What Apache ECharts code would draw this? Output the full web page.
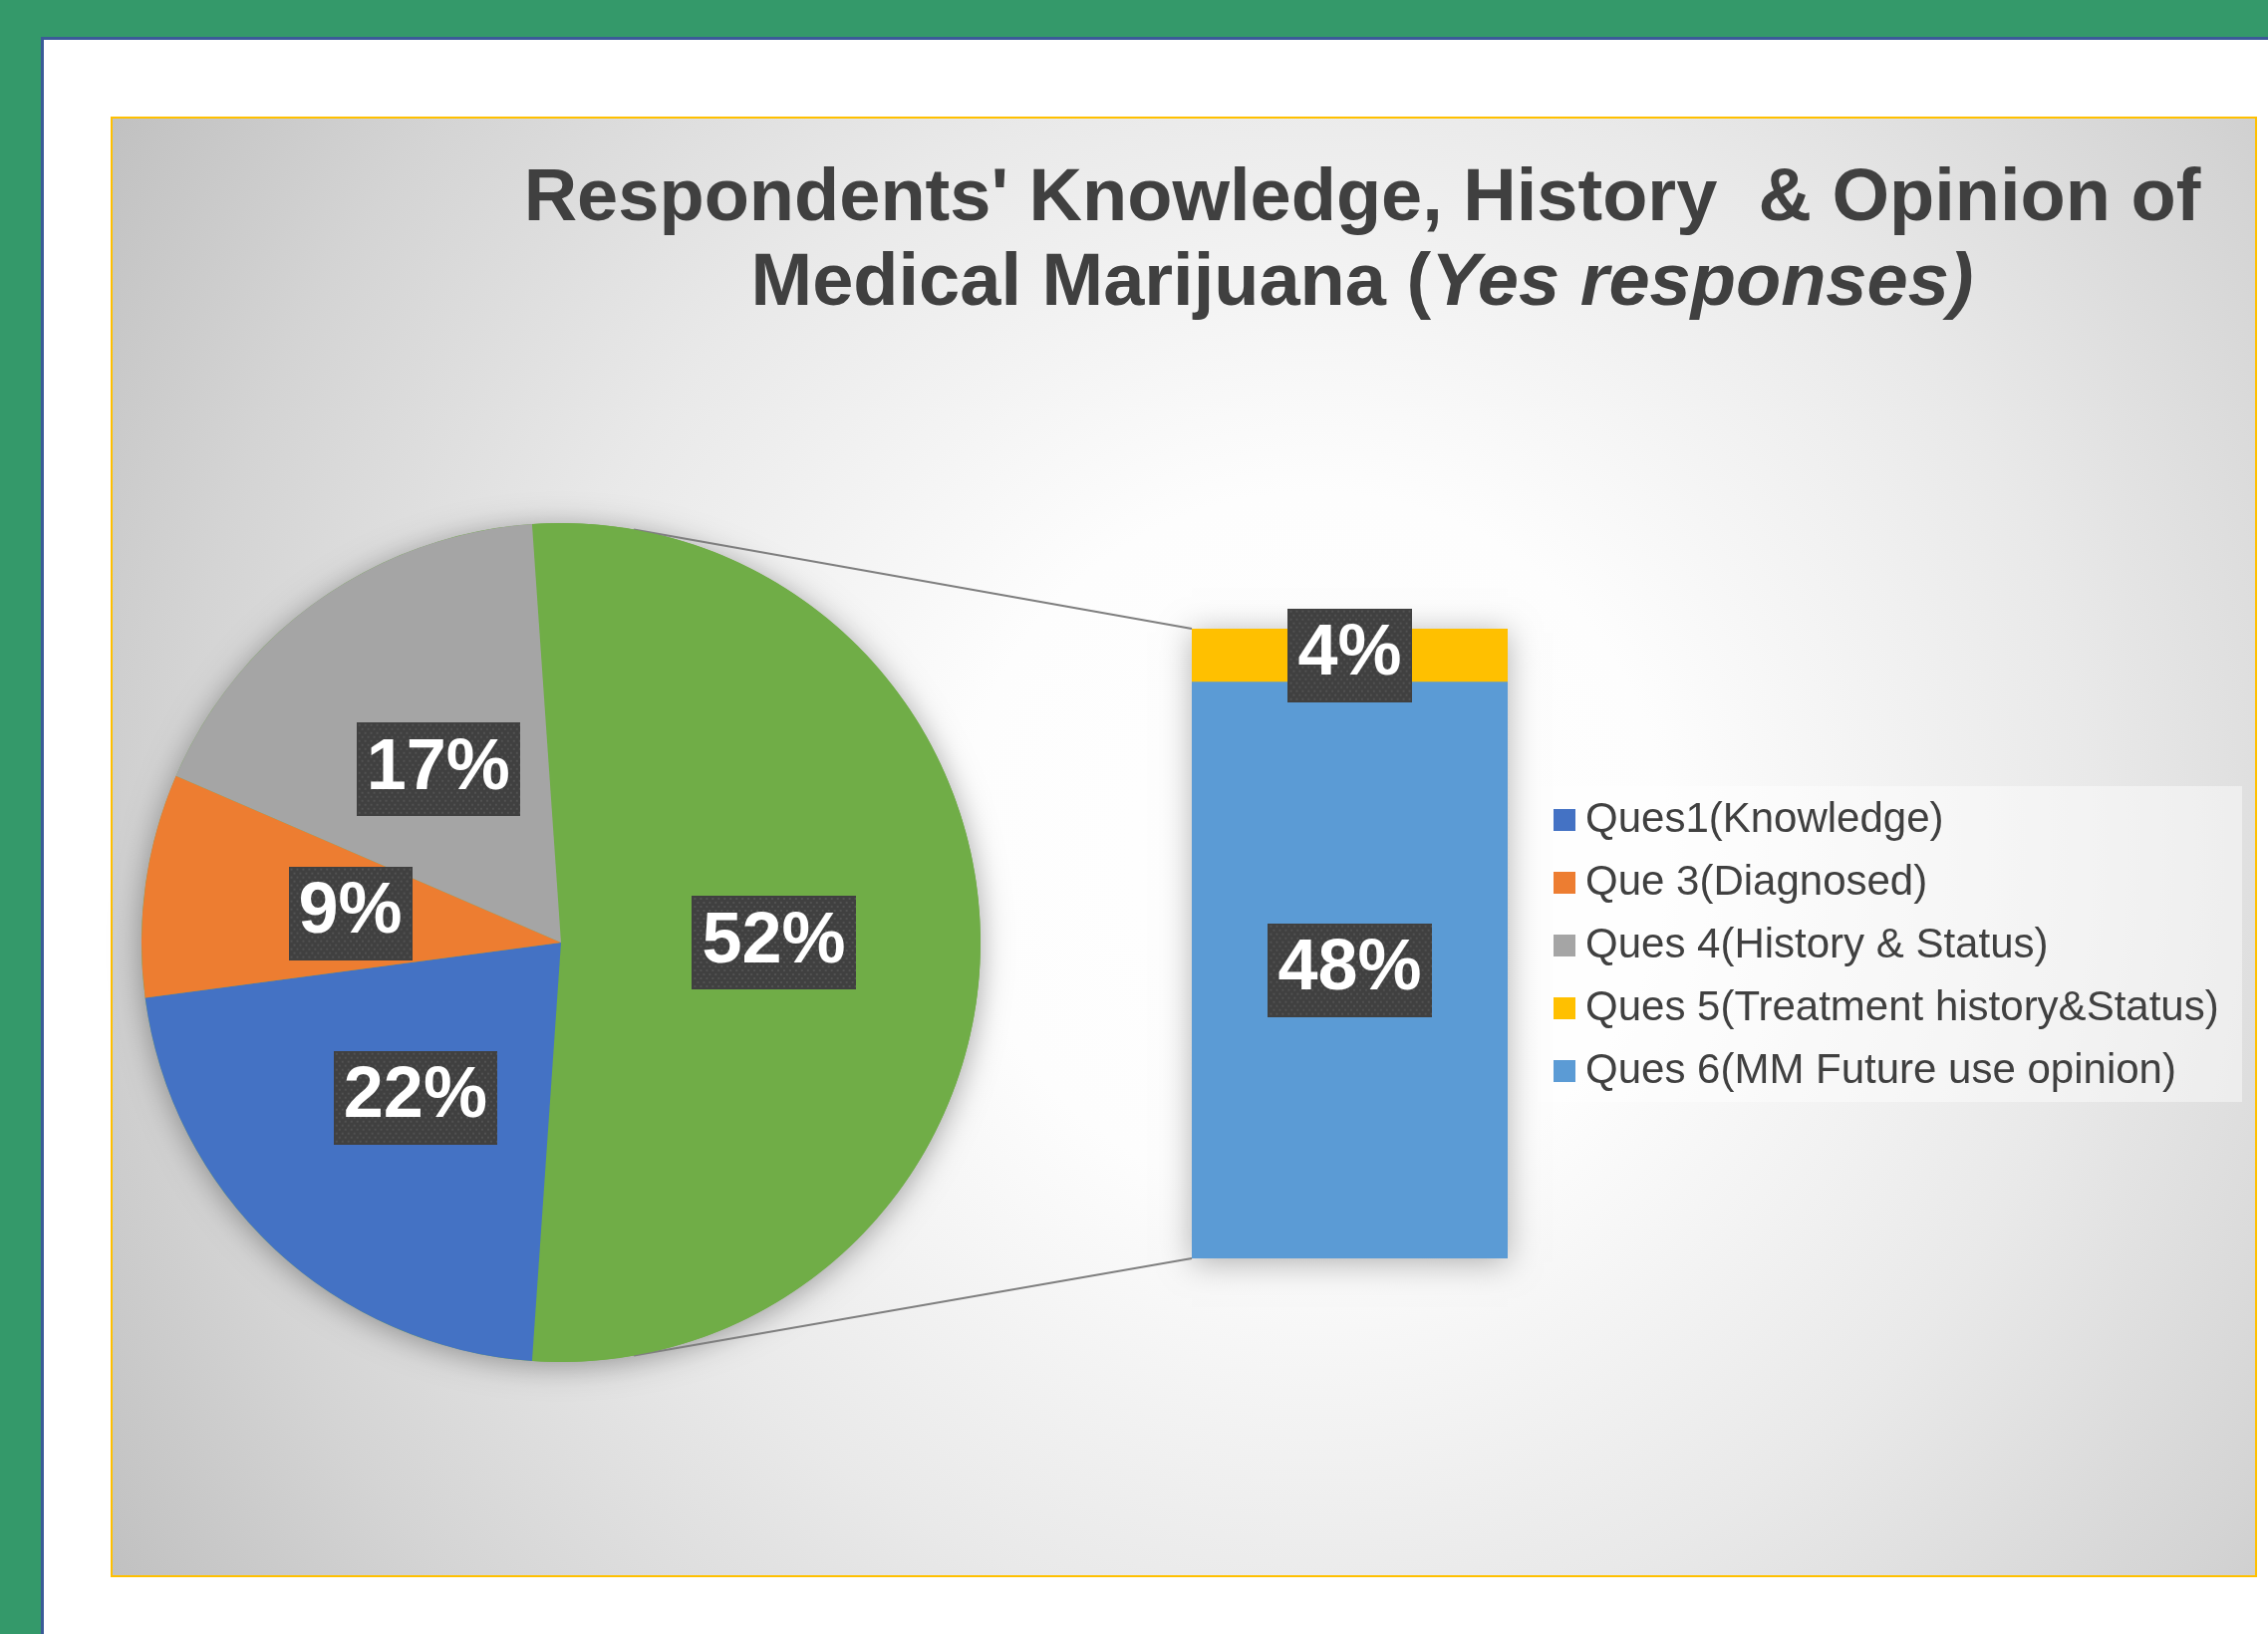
<!DOCTYPE html>
<html><head><meta charset="utf-8">
<script src="https://cdn.jsdelivr.net/npm/echarts@6/dist/echarts.min.js"></script>
<style>html,body{margin:0;padding:0;background:#34996a;overflow:hidden}#c{width:2276px;height:1640px;}</style>
</head><body><div id="c"></div>
<script>
// ---- data ----
const pieNames = ['Ques1(Knowledge)', 'Que 3(Diagnosed)', 'Ques 4(History & Status)'];
const pieValues = [21.8, 8.6, 17.4];
const otherName = 'Other';
const otherValue = 52.2;
const barNames = ['Ques 5(Treatment history&Status)', 'Ques 6(MM Future use opinion)'];
const barValues = [4.4, 47.8];
const barCategories = ['Other'];
const titleLine1 = "Respondents' Knowledge, History  & Opinion of";
const titleLine2a = 'Medical Marijuana (';
const titleLine2b = 'Yes responses)';

// ---- layout / style ----
const FONT = 'Liberation Sans, Arial, sans-serif';
const PIE_C = [563, 946], PIE_R = 421;
const GRID = {left: 1196, top: 631, width: 317, height: 632};
const pieColors = ['#70ad47', '#4472c4', '#ed7d31', '#a5a5a5'];
const barColors = ['#5b9bd5', '#ffc000']; // ques6 (bottom), ques5 (top)
const LBL_FS = 72, LBL_PAD = [11, 10, 11, 10];

const chart = echarts.init(document.getElementById('c'), null, {renderer: 'canvas'});

const fmt = v => Math.round(v) + '%';
const measureCtx = document.createElement('canvas').getContext('2d');
function dotBg(text) {
  measureCtx.font = 'bold ' + LBL_FS + 'px ' + FONT;
  const w = Math.ceil(measureCtx.measureText(text).width) + LBL_PAD[1] + LBL_PAD[3];
  const h = LBL_FS + LBL_PAD[0] + LBL_PAD[2];
  const c = document.createElement('canvas'); c.width = w; c.height = h;
  const ctx = c.getContext('2d');
  ctx.fillStyle = '#404040'; ctx.fillRect(0, 0, w, h);
  ctx.fillStyle = '#525252';
  let row = 0;
  for (let y = 2; y < h; y += 4, row++) {
    for (let x = 2 + (row % 2) * 3; x < w; x += 6) ctx.fillRect(x, y, 2, 2);
  }
  return {image: c};
}

const labelStyle = {
  show: true, position: 'inside',
  formatter: p => fmt(p.value),
  fontFamily: FONT, fontWeight: 'bold', fontSize: LBL_FS, lineHeight: LBL_FS, color: '#ffffff',
  backgroundColor: '#404040', padding: LBL_PAD,
  shadowColor: 'rgba(0,0,0,0.45)', shadowBlur: 6, shadowOffsetX: 4, shadowOffsetY: 4
};

const pieData = [{name: otherName, value: otherValue, itemStyle: {color: pieColors[0]}, label: {backgroundColor: dotBg(fmt(otherValue))}}]
  .concat(pieNames.map((n, i) => ({name: n, value: pieValues[i], itemStyle: {color: pieColors[i + 1]},
    label: {backgroundColor: dotBg(fmt(pieValues[i]))}})));

function bgGraphics(extra) {
  const g = [
    {type: 'rect', z: -10, shape: {x: 0, y: 0, width: 2276, height: 1640}, style: {fill: '#34996a'}, silent: true},
    {type: 'rect', z: -10, shape: {x: 41, y: 37, width: 2276, height: 1640}, style: {fill: '#3b5b98'}, silent: true},
    {type: 'rect', z: -10, shape: {x: 44, y: 40, width: 2276, height: 1640}, style: {fill: '#ffffff'}, silent: true},
    {type: 'rect', z: -9, shape: {x: 112, y: 118, width: 2152, height: 1464},
      style: {
        fill: new echarts.graphic.RadialGradient(0.56, 0.5, 0.97, [
          {offset: 0, color: '#ffffff'}, {offset: 0.25, color: '#fdfdfd'},
          {offset: 0.55, color: '#e9e9e9'}, {offset: 0.8, color: '#d4d4d4'}, {offset: 1, color: '#c0c0c0'}
        ]),
        stroke: '#ffc000', lineWidth: 2
      }, silent: true},
    {type: 'rect', z: -8, shape: {x: 1543, y: 789, width: 707, height: 317}, style: {fill: 'rgba(255,255,255,0.45)'}, silent: true},
    {type: 'circle', z: -7, shape: {cx: PIE_C[0], cy: PIE_C[1], r: PIE_R}, style: {fill: '#70ad47', shadowBlur: 30, shadowColor: 'rgba(0,0,0,0.35)', shadowOffsetY: 4}, silent: true},
    {type: 'rect', z: -7, shape: {x: GRID.left, y: GRID.top, width: GRID.width, height: GRID.height}, style: {fill: '#5b9bd5', shadowBlur: 30, shadowColor: 'rgba(0,0,0,0.3)', shadowOffsetY: 4}, silent: true}
  ];
  return g.concat(extra || []);
}

const option = {
  animation: false,
  title: {
    text: '{a|' + titleLine1 + '}\n{a|' + titleLine2a + '}{b|' + titleLine2b + '}',
    left: 1367, top: 158, textAlign: 'center', padding: 0,
    textStyle: {
      rich: {
        a: {fontFamily: FONT, fontSize: 74, fontWeight: 'bold', color: '#404040', lineHeight: 85},
        b: {fontFamily: FONT, fontSize: 74, fontWeight: 'bold', fontStyle: 'italic', color: '#404040', lineHeight: 85}
      }
    }
  },
  legend: {
    orient: 'vertical', left: 1559, top: 802, padding: 0, itemGap: 21,
    itemWidth: 22, itemHeight: 22, icon: 'rect', selectedMode: false,
    data: pieNames.concat(barNames),
    textStyle: {fontFamily: FONT, fontSize: 42, lineHeight: 42, color: '#404040', padding: [0, 0, 0, 5]}
  },
  grid: GRID,
  xAxis: {type: 'category', data: barCategories, show: false},
  yAxis: {type: 'value', min: 0, max: otherValue, show: false},
  graphic: {elements: bgGraphics()},
  series: [
    {
      type: 'pie', center: PIE_C, radius: PIE_R, startAngle: otherValue * 3.6 / 2, clockwise: true,
      data: pieData, label: labelStyle, labelLine: {show: false}, emphasis: {disabled: true},
      itemStyle: {borderWidth: 0}, z: 2
    },
    {type: 'bar', name: barNames[1], stack: 's', barWidth: '100%', itemStyle: {color: barColors[0]},
      data: [{value: barValues[1], label: {backgroundColor: dotBg(fmt(barValues[1]))}}], label: labelStyle, emphasis: {disabled: true}},
    {type: 'bar', name: barNames[0], stack: 's', barWidth: '100%', itemStyle: {color: barColors[1]},
      data: [{value: barValues[0], label: {backgroundColor: dotBg(fmt(barValues[0]))}}], label: labelStyle, emphasis: {disabled: true}}
  ]
};
chart.setOption(option);

// connector lines from pie edge to the bar corners
const ang = 80 * Math.PI / 180;
const yTop = chart.convertToPixel({yAxisIndex: 0}, otherValue);
const yBot = chart.convertToPixel({yAxisIndex: 0}, 0);
const px = PIE_C[0] + PIE_R * Math.cos(ang);
const lines = [
  {type: 'line', z: -6, shape: {x1: px, y1: PIE_C[1] - PIE_R * Math.sin(ang), x2: GRID.left, y2: yTop}, style: {stroke: '#7f7f7f', lineWidth: 2}, silent: true},
  {type: 'line', z: -6, shape: {x1: px, y1: PIE_C[1] + PIE_R * Math.sin(ang), x2: GRID.left, y2: yBot}, style: {stroke: '#7f7f7f', lineWidth: 2}, silent: true}
];
chart.setOption({graphic: {elements: bgGraphics(lines)}});
</script></body></html>
